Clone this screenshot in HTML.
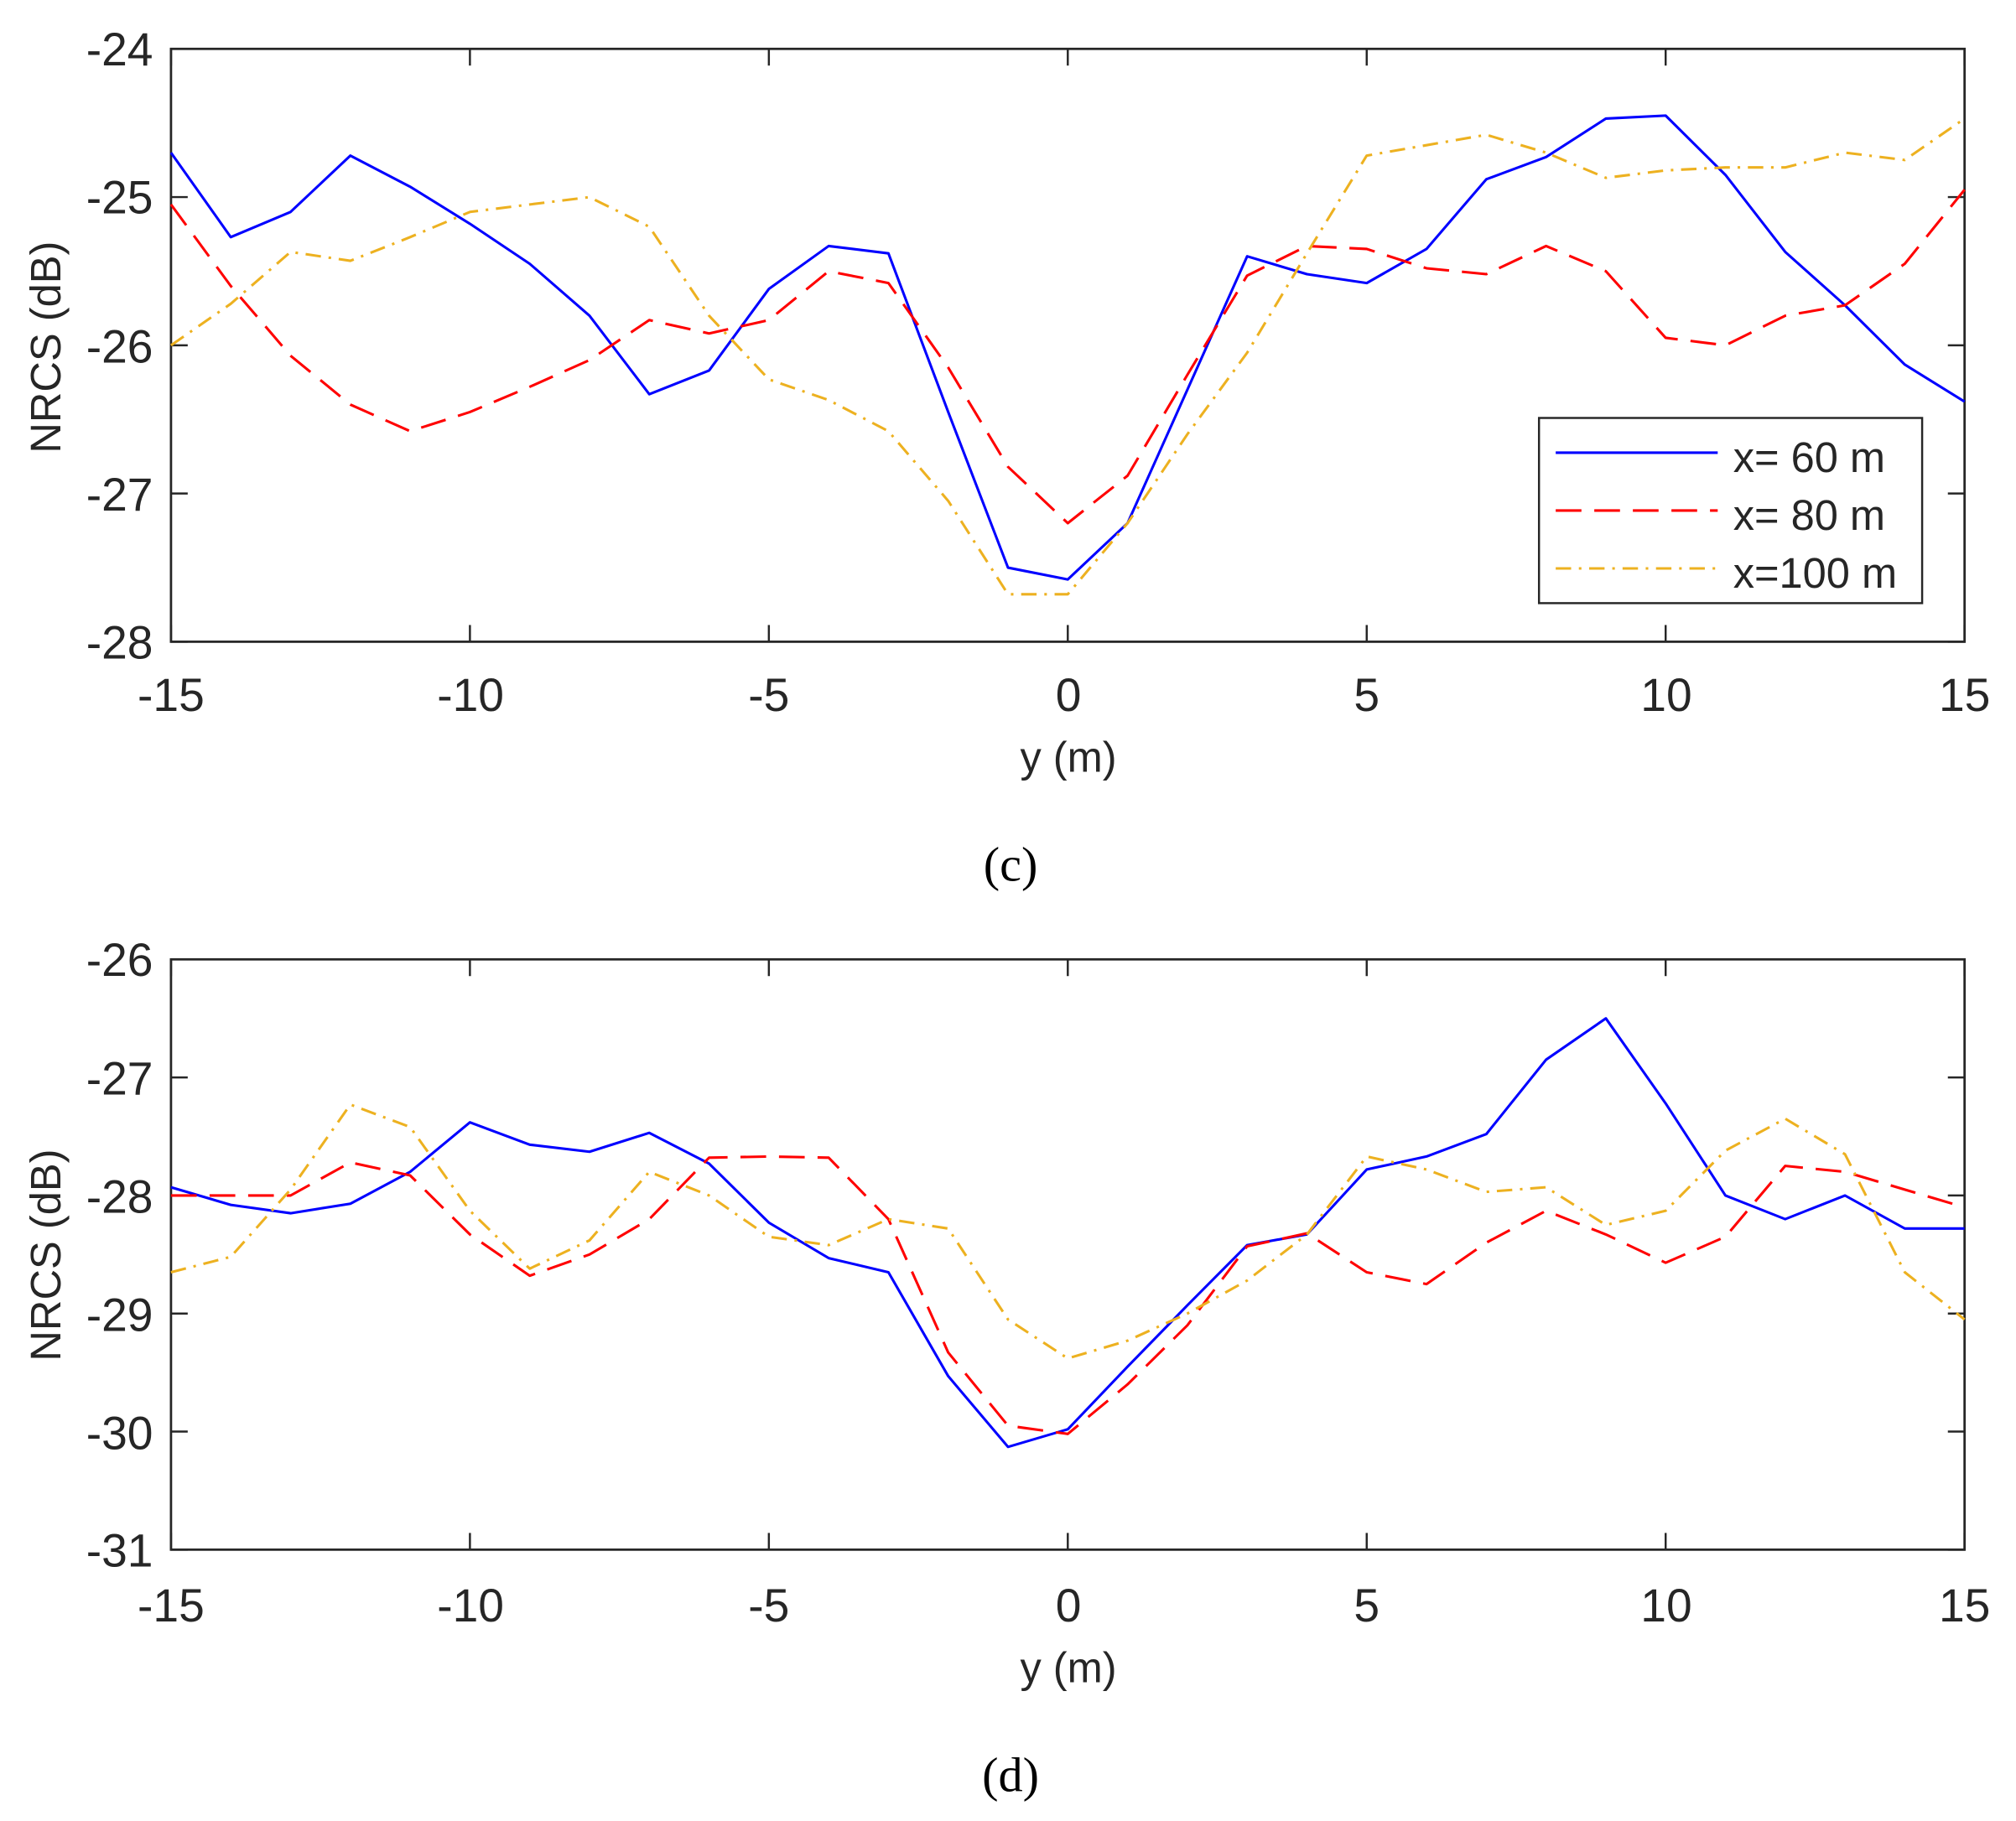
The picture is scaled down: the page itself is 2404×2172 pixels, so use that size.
<!DOCTYPE html>
<html><head><meta charset="utf-8"><style>
html,body{margin:0;padding:0;background:#fff;}
svg{display:block;}
text{font-family:"Liberation Sans",Arial,sans-serif;fill:#262626;}
.tl{font-size:36px;}
.al{font-size:33px;}
.lg{font-size:33px;}
.cap{font-family:"Liberation Serif",serif;font-size:38px;fill:#000;}
</style></head><body>
<svg id="s" width="2404" height="2172" viewBox="0 0 1568 1416" preserveAspectRatio="none" xmlns="http://www.w3.org/2000/svg">
<rect width="1568" height="1416" fill="#fff"/>
<g id="g"></g>
<g class="tl" text-anchor="end">
<text x="119" y="51">-24</text><text x="119" y="166">-25</text><text x="119" y="282">-26</text><text x="119" y="397">-27</text><text x="119" y="512">-28</text>
<text x="119" y="759">-26</text><text x="119" y="851">-27</text><text x="119" y="943">-28</text><text x="119" y="1035">-29</text><text x="119" y="1127">-30</text><text x="119" y="1218">-31</text>
</g>
<g class="tl" text-anchor="middle">
<text x="133" y="553">-15</text><text x="366" y="553">-10</text><text x="598" y="553">-5</text><text x="831" y="553">0</text><text x="1063" y="553">5</text><text x="1296" y="553">10</text><text x="1528" y="553">15</text>
<text x="133" y="1261">-15</text><text x="366" y="1261">-10</text><text x="598" y="1261">-5</text><text x="831" y="1261">0</text><text x="1063" y="1261">5</text><text x="1296" y="1261">10</text><text x="1528" y="1261">15</text>
</g>
<g class="al" text-anchor="middle">
<text x="831" y="600">y (m)</text>
<text x="831" y="1308">y (m)</text>
<text transform="translate(47,270) rotate(-90)">NRCS (dB)</text>
<text transform="translate(47,976) rotate(-90)">NRCS (dB)</text>
</g>
<text class="cap" x="786" y="685" text-anchor="middle">(c)</text>
<text class="cap" x="786" y="1393" text-anchor="middle">(d)</text>
<rect x="1197" y="325" width="298" height="144" fill="#fff" stroke="#262626" stroke-width="1.6"/>
<line x1="1210" y1="352" x2="1336" y2="352" stroke="#0000ff" stroke-width="2"/>
<line x1="1210" y1="397" x2="1336" y2="397" stroke="#ff0000" stroke-width="2" stroke-dasharray="20,10"/>
<line x1="1210" y1="442" x2="1336" y2="442" stroke="#edb120" stroke-width="2" stroke-dasharray="12,6,2,6"/>
<g class="lg"><text x="1348" y="367">x= 60 m</text><text x="1348" y="412">x= 80 m</text><text x="1348" y="457">x=100 m</text></g>
</svg>
<script>
var NS="http://www.w3.org/2000/svg",g=document.getElementById("g");
function el(t,a){var e=document.createElementNS(NS,t);for(var k in a)e.setAttribute(k,a[k]);g.appendChild(e);return e;}
var X0=133,X1=1528;function px(v){return X0+(v+15)*(X1-X0)/30;}
function axes(top,bot,ymax,ymin){
 var py=function(v){return top+(ymax-v)*(bot-top)/(ymax-ymin);};
 el("rect",{x:X0,y:top,width:X1-X0,height:bot-top,fill:"none",stroke:"#262626","stroke-width":1.8});
 for(var v=-15;v<=15;v+=5){el("line",{x1:px(v),x2:px(v),y1:bot,y2:bot-13,stroke:"#262626","stroke-width":1.6});el("line",{x1:px(v),x2:px(v),y1:top,y2:top+13,stroke:"#262626","stroke-width":1.6});}
 for(var v=ymin;v<=ymax;v++){el("line",{x1:X0,x2:X0+13,y1:py(v),y2:py(v),stroke:"#262626","stroke-width":1.6});el("line",{x1:X1,x2:X1-13,y1:py(v),y2:py(v),stroke:"#262626","stroke-width":1.6});}
 return py;}
function line(py,d,c,dash){var p=[];for(var i=0;i<d.length;i++)p.push(px(i-15).toFixed(1)+","+py(d[i]).toFixed(1));
 var a={points:p.join(" "),fill:"none",stroke:c,"stroke-width":2,"stroke-linejoin":"round"};if(dash)a["stroke-dasharray"]=dash;el("polyline",a);}
var pc=axes(38,499,-24,-28);
line(pc,[-24.7,-25.27,-25.1,-24.72,-24.93,-25.18,-25.45,-25.8,-26.33,-26.17,-25.62,-25.33,-25.38,-26.45,-27.5,-27.58,-27.2,-26.3,-25.4,-25.52,-25.58,-25.35,-24.88,-24.73,-24.47,-24.45,-24.85,-25.37,-25.73,-26.13,-26.38],"#0000ff");
line(pc,[-25.05,-25.6,-26.07,-26.4,-26.58,-26.45,-26.28,-26.1,-25.83,-25.92,-25.83,-25.5,-25.58,-26.15,-26.82,-27.2,-26.88,-26.2,-25.53,-25.33,-25.35,-25.48,-25.52,-25.33,-25.5,-25.95,-26.0,-25.8,-25.73,-25.45,-24.95],"#ff0000","20,10");
line(pc,[-26.0,-25.72,-25.37,-25.43,-25.27,-25.1,-25.05,-25.0,-25.2,-25.8,-26.23,-26.37,-26.58,-27.05,-27.68,-27.68,-27.2,-26.6,-26.05,-25.38,-24.72,-24.65,-24.58,-24.7,-24.87,-24.82,-24.8,-24.8,-24.7,-24.75,-24.47],"#edb120","12,6,2,6");
var pd=axes(746,1205,-26,-31);
line(pd,[-27.93,-28.08,-28.15,-28.07,-27.8,-27.38,-27.57,-27.63,-27.47,-27.73,-28.23,-28.53,-28.65,-29.53,-30.13,-29.98,-29.45,-28.93,-28.42,-28.33,-27.78,-27.67,-27.48,-26.85,-26.5,-27.22,-28.0,-28.2,-28.0,-28.28,-28.28],"#0000ff");
line(pd,[-28.0,-28.0,-28.0,-27.72,-27.83,-28.33,-28.68,-28.5,-28.2,-27.68,-27.67,-27.68,-28.2,-29.33,-29.95,-30.02,-29.6,-29.1,-28.43,-28.32,-28.65,-28.75,-28.4,-28.13,-28.33,-28.57,-28.35,-27.75,-27.8,-27.95,-28.1],"#ff0000","20,10");
line(pd,[-28.65,-28.52,-27.95,-27.23,-27.42,-28.13,-28.62,-28.38,-27.8,-28.0,-28.35,-28.42,-28.2,-28.28,-29.05,-29.38,-29.23,-29.0,-28.72,-28.33,-27.67,-27.78,-27.97,-27.93,-28.25,-28.13,-27.62,-27.35,-27.65,-28.65,-29.05],"#edb120","12,6,2,6");
</script>
</body></html>
